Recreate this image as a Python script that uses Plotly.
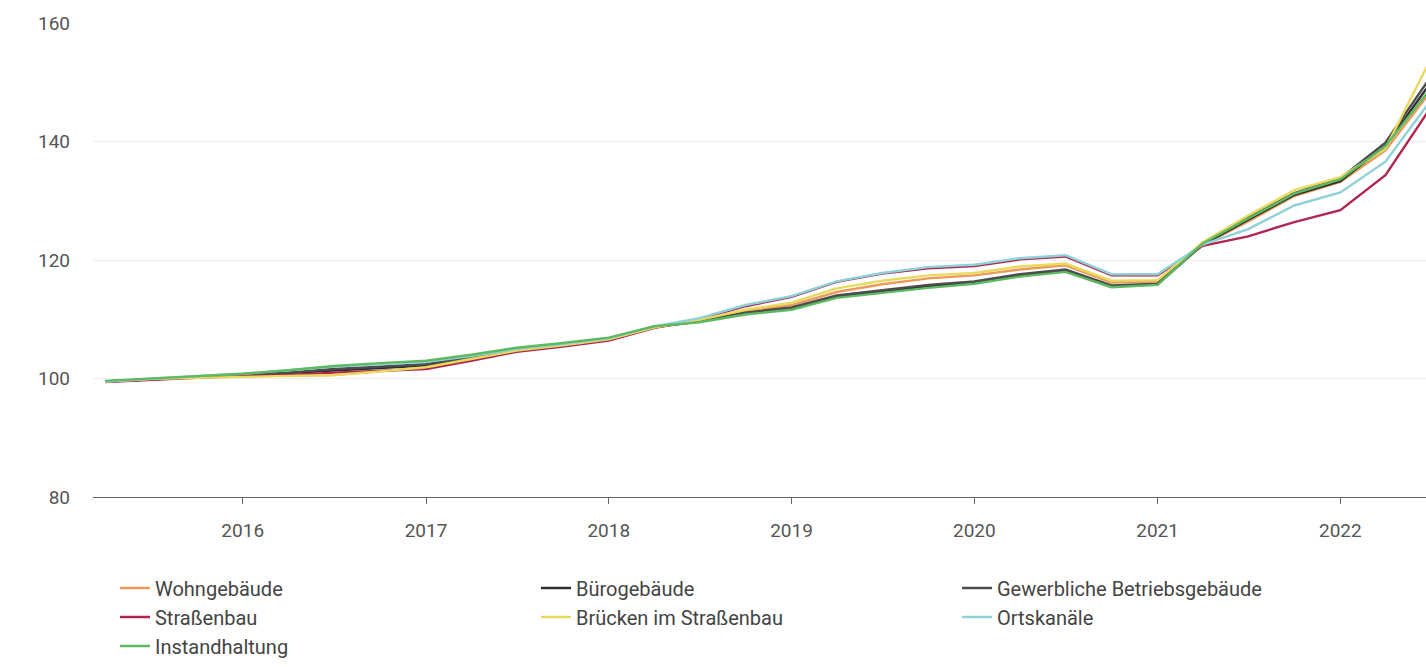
import plotly.graph_objects as go

quarters = ["2015-04-01", "2015-07-01", "2015-10-01",
            "2016-01-01", "2016-04-01", "2016-07-01", "2016-10-01",
            "2017-01-01", "2017-04-01", "2017-07-01", "2017-10-01",
            "2018-01-01", "2018-04-01", "2018-07-01", "2018-10-01",
            "2019-01-01", "2019-04-01", "2019-07-01", "2019-10-01",
            "2020-01-01", "2020-04-01", "2020-07-01", "2020-10-01",
            "2021-01-01", "2021-04-01", "2021-07-01", "2021-10-01",
            "2022-01-01", "2022-04-01", "2022-07-01"]

wohngebaeude = [99.5, 99.9, 100.2, 100.4, 100.5, 100.6, 101.2, 101.8, 103.2, 104.6, 105.5, 106.6,
                108.6, 109.7, 111.3, 112.4, 114.6, 115.9, 116.9, 117.4, 118.4, 119.1, 116.2, 116.4,
                122.5, 126.5, 130.8, 133.2, 138.5, 148.5]
buerogebaeude = [99.5, 99.9, 100.2, 100.5, 100.9, 101.4, 101.8, 102.2, 103.4, 104.7, 105.6, 106.6,
                 108.7, 109.6, 111.0, 111.9, 113.8, 114.7, 115.6, 116.2, 117.4, 118.2, 115.5, 115.9,
                 122.6, 126.8, 131.0, 133.3, 139.3, 150.0]
gewerbliche = [99.5, 99.9, 100.3, 100.6, 101.0, 101.6, 102.0, 102.4, 103.6, 104.9, 105.8, 106.7,
               108.8, 109.7, 111.1, 112.0, 114.0, 114.9, 115.8, 116.4, 117.6, 118.4, 115.7, 116.0,
               122.8, 127.2, 131.3, 133.8, 139.8, 151.0]
strassenbau = [99.4, 99.8, 100.1, 100.4, 100.6, 101.0, 101.3, 101.6, 103.0, 104.5, 105.4, 106.4,
               108.5, 110.0, 112.2, 113.8, 116.3, 117.7, 118.6, 119.0, 120.1, 120.6, 117.4, 117.4,
               122.4, 124.0, 126.4, 128.4, 134.3, 145.8]
bruecken = [99.5, 99.9, 100.1, 100.3, 100.4, 100.6, 101.2, 101.9, 103.3, 104.7, 105.6, 106.6,
            108.6, 109.9, 111.6, 112.8, 115.2, 116.5, 117.4, 117.8, 118.9, 119.4, 116.5, 116.6,
            123.0, 127.5, 131.8, 134.0, 138.8, 154.0]
ortskanaele = [99.5, 100.0, 100.4, 100.8, 101.4, 102.0, 102.4, 102.8, 103.8, 105.0, 105.8, 106.8,
               108.8, 110.2, 112.4, 113.9, 116.4, 117.8, 118.8, 119.2, 120.3, 120.8, 117.6, 117.6,
               122.6, 125.2, 129.2, 131.4, 136.6, 147.0]
instandhaltung = [99.6, 100.0, 100.4, 100.8, 101.4, 102.1, 102.6, 103.0, 104.0, 105.2, 106.0, 106.9,
                  108.8, 109.5, 110.8, 111.6, 113.6, 114.5, 115.3, 116.0, 117.2, 118.0, 115.4, 115.8,
                  122.8, 127.0, 131.2, 133.6, 139.2, 149.0]

series = [
    ("Wohngebäude", wohngebaeude, "#ec9a5c"),
    ("Bürogebäude", buerogebaeude, "#2e2e2e"),
    ("Gewerbliche Betriebsgebäude", gewerbliche, "#4d4d4d"),
    ("Straßenbau", strassenbau, "#b0264f"),
    ("Brücken im Straßenbau", bruecken, "#e9da5e"),
    ("Ortskanäle", ortskanaele, "#8fd1d8"),
    ("Instandhaltung", instandhaltung, "#5dba62"),
]

y_ticks = [80, 100, 120, 140, 160]

fig = go.Figure()
for name, vals, color in series:
    fig.add_trace(go.Scatter(x=quarters, y=vals, name=name, mode="lines",
                             line=dict(color=color, width=2.4)))

fig.update_layout(
    width=1426, height=667,
    margin=dict(l=93, r=0, t=23, b=170, autoexpand=False),
    paper_bgcolor="white", plot_bgcolor="white",
    font=dict(family="Roboto", size=19, color="#555555"),
    showlegend=True,
    legend=dict(orientation="h", x=0.0165, xanchor="left", y=-0.151, yanchor="top",
                entrywidth=376, entrywidthmode="pixels",
                font=dict(family="Roboto", size=20, color="#444444"),
                itemwidth=30, tracegroupgap=0),
    xaxis=dict(type="date", range=["2015-03-08", "2022-06-21"],
               dtick="M12", tick0="2016-01-01", tickformat="%Y",
               showgrid=False, showline=True, linecolor="#666666", linewidth=1.3,
               ticks="outside", ticklen=6, tickcolor="#666666",
               ticklabelstandoff=10,
               tickfont=dict(family="Roboto", size=19, color="#555555")),
    yaxis=dict(range=[80, 160], tickvals=y_ticks, showgrid=True, gridcolor="#eeeeee",
               zeroline=False, showline=False, ticks="", ticklabelstandoff=22,
               tickfont=dict(family="Roboto", size=19, color="#555555")),
)

fig.write_html("out.html")
